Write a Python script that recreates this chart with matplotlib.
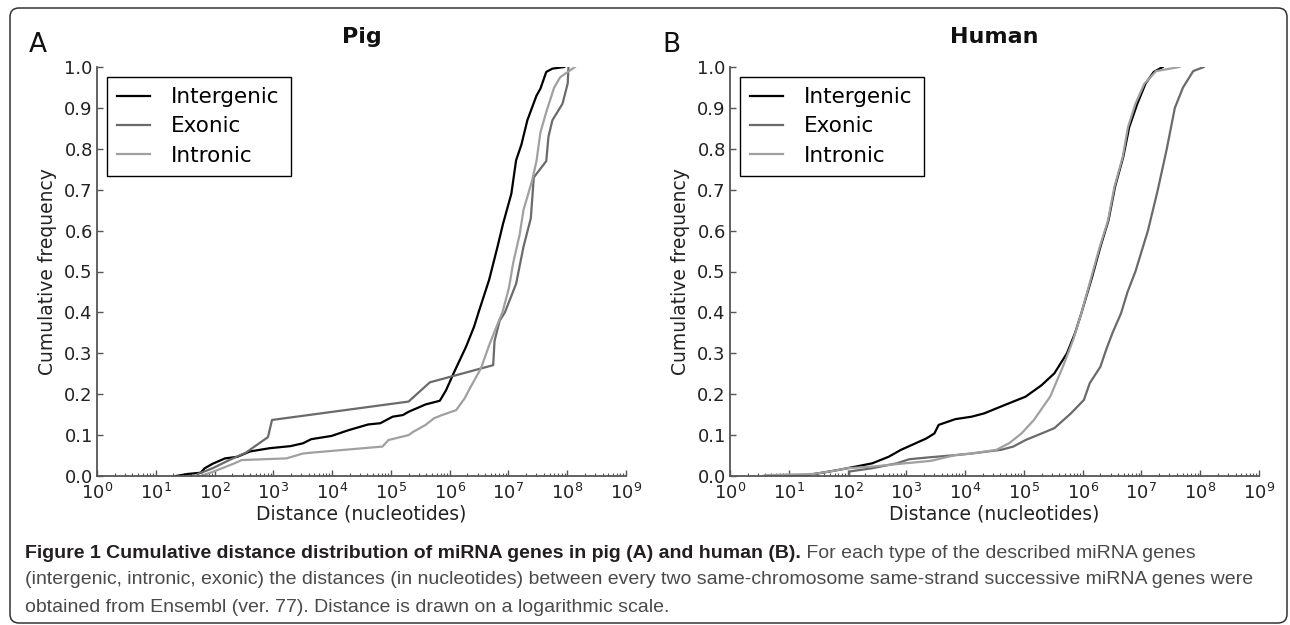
"""Cumulative distance distribution of miRNA genes, pig (A) vs human (B)."""
import matplotlib
matplotlib.use("Agg")
import matplotlib.pyplot as plt
from matplotlib.patches import FancyBboxPatch
from matplotlib.transforms import IdentityTransform
from matplotlib.ticker import LogLocator, NullFormatter

# ---- data (distance in nt, cumulative frequency) ----
pig_intergenic_d = [2.2e1, 3.5e1, 5.8e1, 6.8e1, 9.3e1, 1.5e2, 2.45e2, 4.0e2, 8.7e2, 1.95e3,
                    3.2e3, 4.4e3, 9.8e3, 1.9e4, 4.1e4, 6.6e4, 1.07e5, 1.6e5, 2.0e5, 3.9e5,
                    6.8e5, 8.7e5, 1.2e6, 1.9e6, 2.6e6, 3.1e6, 4.7e6, 6.5e6, 8.1e6, 1.12e7,
                    1.35e7, 1.66e7, 2.1e7, 3.0e7, 3.5e7, 4.4e7, 5.6e7, 8.9e7]
pig_intergenic_cf = [0.0, 0.005, 0.008, 0.019, 0.03, 0.043, 0.047, 0.06, 0.068, 0.073,
                     0.08, 0.09, 0.098, 0.112, 0.126, 0.129, 0.145, 0.149, 0.157, 0.175,
                     0.184, 0.21, 0.255, 0.316, 0.365, 0.40, 0.48, 0.56, 0.617, 0.69,
                     0.772, 0.81, 0.87, 0.93, 0.947, 0.988, 0.996, 1.0]

pig_exonic_d = [5.2e1, 9.3e1, 1.78e2, 3.4e2, 8.1e2, 9.5e2, 2.0e5, 4.6e5, 5.5e6, 5.8e6,
                7.1e6, 8.7e6, 1.35e7, 1.8e7, 2.4e7, 2.7e7, 4.4e7, 4.8e7, 5.6e7, 8.3e7,
                1.02e8, 1.05e8]
pig_exonic_cf = [0.005, 0.019, 0.039, 0.057, 0.095, 0.137, 0.182, 0.229, 0.271, 0.33,
                 0.38, 0.40, 0.47, 0.56, 0.63, 0.73, 0.77, 0.83, 0.87, 0.91,
                 0.96, 1.0]

pig_intronic_d = [5.8e1, 9.3e1, 2.1e2, 2.9e2, 1.66e3, 3.2e3, 4.4e3, 7.2e4, 9.1e4, 2.0e5,
                  2.4e5, 3.9e5, 5.4e5, 7.4e5, 1.29e6, 1.8e6, 2.2e6, 3.4e6, 4.7e6, 6.9e6,
                  7.9e6, 1.02e7, 1.2e7, 1.55e7, 1.8e7, 2.5e7, 3.0e7, 3.5e7, 4.4e7, 6.0e7,
                  7.6e7, 1.35e8]
pig_intronic_cf = [0.0, 0.01, 0.03, 0.039, 0.043, 0.055, 0.057, 0.072, 0.088, 0.10,
                   0.108, 0.125, 0.141, 0.149, 0.161, 0.19, 0.214, 0.263, 0.32, 0.38,
                   0.40, 0.46, 0.52, 0.59, 0.65, 0.72, 0.77, 0.84, 0.89, 0.95,
                   0.975, 1.0]

hum_intergenic_d = [8.7, 1.95e1, 3.7e1, 7.1e1, 1.38e2, 2.63e2, 5.0e2, 8.1e2, 1.12e3, 2.2e3,
                    3.0e3, 3.55e3, 6.8e3, 1.29e4, 2.1e4, 4.1e4, 6.6e4, 1.07e5, 2.0e5, 3.3e5,
                    5.4e5, 7.4e5, 9.5e5, 1.45e6, 2.0e6, 2.75e6, 3.55e6, 4.9e6, 6.2e6, 8.5e6,
                    1.17e7, 1.62e7, 2.3e7]
hum_intergenic_cf = [0.0, 0.002, 0.008, 0.015, 0.023, 0.031, 0.047, 0.064, 0.073, 0.092,
                     0.104, 0.125, 0.139, 0.145, 0.153, 0.17, 0.182, 0.194, 0.222, 0.251,
                     0.30, 0.349, 0.398, 0.487, 0.56, 0.625, 0.707, 0.78, 0.853, 0.91,
                     0.959, 0.988, 1.0]

hum_exonic_d = [1.07e2, 1.07e2, 2.63e2, 6.9e2, 1.12e3, 2.6e3, 6.8e3, 1.29e4, 4.1e4, 6.6e4,
                1.07e5, 2.0e5, 3.3e5, 6.3e5, 1.05e6, 1.32e6, 2.0e6, 2.5e6, 3.2e6, 4.5e6,
                5.8e6, 7.9e6, 1.29e7, 1.9e7, 2.7e7, 3.7e7, 5.1e7, 7.6e7, 1.15e8]
hum_exonic_cf = [0.0, 0.011, 0.019, 0.031, 0.041, 0.046, 0.051, 0.055, 0.064, 0.072,
                 0.088, 0.104, 0.117, 0.153, 0.186, 0.227, 0.267, 0.308, 0.349, 0.398,
                 0.45, 0.50, 0.60, 0.70, 0.80, 0.90, 0.95, 0.99, 1.0]

hum_intronic_d = [3.9, 2.7e1, 6.0e1, 1.0e2, 2.63e2, 9.5e2, 2.6e3, 6.8e3, 1.29e4, 3.4e4,
                  5.6e4, 9.1e4, 1.48e5, 2.8e5, 4.6e5, 6.9e5, 9.5e5, 1.41e6, 1.95e6, 2.7e6,
                  3.47e6, 4.8e6, 5.9e6, 7.9e6, 1.12e7, 1.78e7, 4.4e7]
hum_intronic_cf = [0.002, 0.005, 0.013, 0.019, 0.023, 0.031, 0.037, 0.051, 0.055, 0.064,
                   0.08, 0.104, 0.137, 0.194, 0.267, 0.333, 0.398, 0.487, 0.56, 0.625,
                   0.707, 0.78, 0.853, 0.91, 0.959, 0.99, 1.0]

series_labels = ["Intergenic", "Exonic", "Intronic"]
series_colors = ["#000000", "#6a6a6a", "#a0a0a0"]
caption_bold = ("Figure 1 Cumulative distance distribution of miRNA genes in pig (A) "
                "and human (B).")
caption_rest = [" For each type of the described miRNA genes",
                "(intergenic, intronic, exonic) the distances (in nucleotides) between every "
                "two same-chromosome same-strand successive miRNA genes were",
                "obtained from Ensembl (ver. 77). Distance is drawn on a logarithmic scale."]

W, H = 1290, 625
fig = plt.figure(figsize=(W / 100, H / 100), dpi=100)
plt.rcParams["font.family"] = "DejaVu Sans"


def panel(left, title, letter, data):
    ax = fig.add_axes([left / W, 1 - 476 / H, 529 / W, 409 / H])
    for (d, cf), lab, col in zip(data, series_labels, series_colors):
        ax.plot(d, cf, color=col, lw=1.6, label=lab, solid_joinstyle="round")
    ax.set_xscale("log")
    ax.set_xlim(1, 1e9)
    ax.set_ylim(0, 1)
    ax.set_yticks([i / 10 for i in range(11)])
    ax.xaxis.set_major_locator(LogLocator(base=10, numticks=12))
    ax.xaxis.set_minor_locator(LogLocator(base=10, subs=range(2, 10), numticks=12))
    ax.xaxis.set_minor_formatter(NullFormatter())
    for s in ("top", "right"):
        ax.spines[s].set_visible(False)
    for s in ("left", "bottom"):
        ax.spines[s].set_color("#555555")
        ax.spines[s].set_linewidth(1.3)
    ax.tick_params(which="both", direction="in", top=False, right=False, colors="#555555",
                   labelcolor="#222222", labelsize=13, pad=3)
    ax.tick_params(axis="x", which="both", pad=5)
    ax.tick_params(which="major", length=4, width=1)
    ax.tick_params(which="minor", length=2.5, width=0.8)
    ax.set_xlabel("Distance (nucleotides)", fontsize=13.5, color="#222222", labelpad=1)
    ax.set_ylabel("Cumulative frequency", fontsize=13.5, color="#222222", labelpad=5)
    ax.set_title(title, fontsize=16, fontweight="bold", pad=17, color="#111111")
    leg = ax.legend(loc="upper left", fontsize=15.5, frameon=True, fancybox=False,
                    edgecolor="black", framealpha=1, borderaxespad=0.45, borderpad=0.5,
                    handlelength=1.5, handletextpad=1.0, labelspacing=0.42)
    leg.get_frame().set_linewidth(1.0)
    fig.text((left - 68) / W, 1 - 52 / H, letter, fontsize=19, va="baseline", ha="left",
             color="#111111")
    return ax


panel(97, "Pig", "A", [(pig_intergenic_d, pig_intergenic_cf),
                       (pig_exonic_d, pig_exonic_cf),
                       (pig_intronic_d, pig_intronic_cf)])
panel(730, "Human", "B", [(hum_intergenic_d, hum_intergenic_cf),
                          (hum_exonic_d, hum_exonic_cf),
                          (hum_intronic_d, hum_intronic_cf)])

# ---- caption ----
cap_font = ["Liberation Sans", "DejaVu Sans"]
cap_y = [553, 580, 607]
t_bold = fig.text(25 / W, 1 - cap_y[0] / H, caption_bold, fontsize=14, fontweight="bold",
                  family=cap_font, va="center", color="#231f20")
fig.canvas.draw()
x_end = t_bold.get_window_extent().x1 / W
fig.text(x_end, 1 - cap_y[0] / H, caption_rest[0], fontsize=14, family=cap_font,
         va="center", color="#4a4a4a")
for line, y in zip(caption_rest[1:], cap_y[1:]):
    fig.text(25 / W, 1 - y / H, line, fontsize=14, family=cap_font, va="center",
             color="#4a4a4a")

# rounded outer frame
frame = FancyBboxPatch((10, H - 623), 1277, 615, boxstyle="round,pad=0,rounding_size=9",
                       transform=IdentityTransform(), fill=False, ec="#333333", lw=1.1)
fig.patches.append(frame)

fig.savefig("out.png", dpi=100)
